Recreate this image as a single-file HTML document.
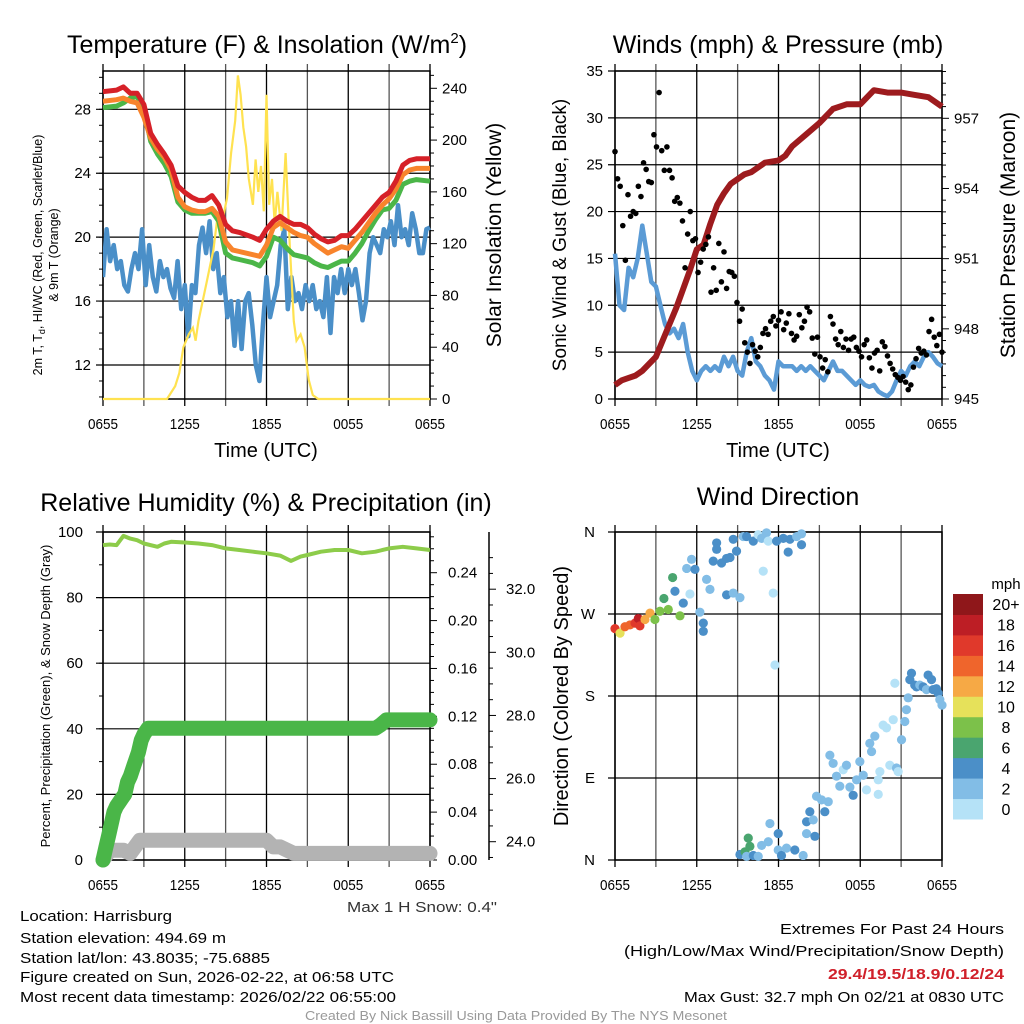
<!DOCTYPE html>
<html><head><meta charset="utf-8"><style>
html,body{margin:0;padding:0;background:#fff;}
svg{display:block;font-family:"Liberation Sans",sans-serif;}
</style></head><body>
<svg id="fig" width="1024" height="1024" viewBox="0 0 1024 1024" xmlns="http://www.w3.org/2000/svg">
<rect x="0" y="0" width="1024" height="1024" fill="#fff"/>
<text x="267" y="53" font-size="25" text-anchor="middle">Temperature (F) &amp; Insolation (W/m<tspan font-size="15" dy="-10">2</tspan><tspan dy="10">)</tspan></text>
<text x="778" y="53" font-size="25" text-anchor="middle">Winds (mph) &amp; Pressure (mb)</text>
<text x="266" y="511" font-size="25" text-anchor="middle">Relative Humidity (%) &amp; Precipitation (in)</text>
<text x="778" y="505" font-size="25" text-anchor="middle">Wind Direction</text>
<g id="p1"></g>
<g id="p2"></g>
<g id="p3"></g>
<g id="p4"></g>
<g font-family="'Liberation Sans Narrow','Liberation Sans',sans-serif" font-size="15">
<text x="347" y="912" textLength="150" lengthAdjust="spacingAndGlyphs" fill="#333">Max 1 H Snow: 0.4"</text>
<text x="20" y="921" textLength="152" lengthAdjust="spacingAndGlyphs">Location: Harrisburg</text>
<text x="20" y="943" textLength="206" lengthAdjust="spacingAndGlyphs">Station elevation: 494.69 m</text>
<text x="20" y="963" textLength="250" lengthAdjust="spacingAndGlyphs">Station lat/lon: 43.8035; -75.6885</text>
<text x="20" y="982" textLength="374" lengthAdjust="spacingAndGlyphs">Figure created on Sun, 2026-02-22, at 06:58 UTC</text>
<text x="20" y="1002" textLength="376" lengthAdjust="spacingAndGlyphs">Most recent data timestamp: 2026/02/22 06:55:00</text>
<text x="780" y="934" textLength="224" lengthAdjust="spacingAndGlyphs">Extremes For Past 24 Hours</text>
<text x="624" y="956" textLength="380" lengthAdjust="spacingAndGlyphs">(High/Low/Max Wind/Precipitation/Snow Depth)</text>
<text x="828" y="979" textLength="176" lengthAdjust="spacingAndGlyphs" fill="#d0202a" font-weight="bold">29.4/19.5/18.9/0.12/24</text>
<text x="684" y="1002" textLength="320" lengthAdjust="spacingAndGlyphs">Max Gust: 32.7 mph On 02/21 at 0830 UTC</text>
<text x="305" y="1020" textLength="422" lengthAdjust="spacingAndGlyphs" font-size="13" fill="#999">Created By Nick Bassill Using Data Provided By The NYS Mesonet</text>
</g>
</svg>
<script>
// ---------- data ----------
const timeLabels=["0655","1255","1855","0055","0655"];
const tempHours=[0,1,1.5,2,2.5,3,3.5,4,4.5,5,5.5,6,6.5,7,7.5,8,8.5,9,9.5,10,11,11.5,12,12.5,13,13.5,14,14.5,15,15.5,16,16.5,17,17.5,18,18.5,19,19.5,20,20.5,21,21.5,22,22.5,23,24];
const tempRed=[29.1,29.2,29.4,29.0,29.0,28.3,26.5,25.8,25.2,24.5,23.2,22.8,22.5,22.3,22.3,22.6,22.0,20.8,20.4,20.3,20.0,19.8,20.5,21.0,21.3,21.0,20.8,20.8,20.6,20.2,19.9,19.7,19.8,20.1,20.1,20.5,21.0,21.5,22.0,22.5,22.8,23.5,24.5,24.8,24.9,24.9];
const tempOrange=[28.5,28.6,28.7,28.5,28.4,27.5,26.2,25.5,25.0,24.2,22.5,21.9,21.7,21.6,21.6,21.8,21.3,19.7,19.2,19.1,18.9,18.8,19.5,20.6,20.9,20.6,20.3,20.1,20.0,19.6,19.3,19.0,19.2,19.4,19.3,19.8,20.3,20.9,21.5,22.0,22.4,23.0,23.9,24.2,24.3,24.3];
const tempGreen=[28.1,28.2,28.4,28.7,28.8,28.0,26.0,25.2,24.6,23.8,22.2,21.7,21.5,21.5,21.5,21.6,21.0,19.0,18.7,18.6,18.4,18.2,18.8,20.0,19.8,19.3,18.9,18.8,18.7,18.4,18.2,18.1,18.3,18.5,18.5,19.0,19.6,20.4,21.1,21.7,21.8,22.3,23.3,23.5,23.6,23.5];
const dewBlue=[17.5,20.5,18.5,19.5,18,18.5,17,16.6,18,19,18,20.5,17,19.5,17.5,16.6,18.5,17.5,18,16.8,16.2,18.5,15.5,17,13.8,17,16.5,19.5,20.6,19,21,18,19,16.5,17.5,15,16,13.2,16,13,16,16.5,14.5,12,11,14.5,17.5,15,16,17,19.5,20.5,15.5,17.5,16,16.5,15.5,17,16,17,15.5,16,15,17.5,14,17.5,16.5,18,16.5,18,17,18,16.5,14.8,16,19,20,19.5,19,20.5,20,21,19.5,22,20,20.5,19.5,21.5,20.5,19,19,20.5,20.6];
const solarHours=[0,4.7,5.3,5.6,5.9,6.3,6.6,6.8,7,7.3,7.6,7.9,8.1,8.4,8.6,8.9,9.1,9.4,9.7,9.9,10.1,10.3,10.5,10.7,11,11.2,11.4,11.6,11.8,12.0,12.2,12.4,12.6,12.8,13.1,13.4,13.7,14,14.2,14.5,14.8,15.1,15.4,15.8,24];
const solarVals=[0,0,10,20,40,50,55,45,60,75,90,105,115,140,125,145,155,190,215,250,235,210,195,170,150,185,160,180,145,235,150,170,135,160,130,190,120,60,45,50,40,15,3,0,0];
const pressHours=[0,0.5,1,1.5,2,2.5,3,3.5,4,4.5,5,5.5,6,6.5,7,7.5,8,8.5,9,9.5,10,11,12,12.5,13,14,15,16,17,18,19,20,21,22,23,24];
const pressVals=[945.6,945.8,945.9,946.0,946.2,946.5,946.8,947.5,948.2,948.9,949.7,950.5,951.4,951.6,952.5,953.3,953.8,954.2,954.4,954.6,954.7,955.1,955.2,955.4,955.8,956.3,956.8,957.4,957.6,957.6,958.2,958.1,958.1,958.0,957.9,957.5];
const windSpeed=[15.5,10,9.5,14,13,15,18.5,15.5,12.5,12,10,8,7,7.5,6.5,8,5,3,2,3,3.5,3,3.5,3,4.5,3.5,4.5,3,2.5,5,6.5,4,3.5,2.5,2,1,4,3.5,3.5,3.5,3,3.5,3,3.5,3,2.5,2,3,4,3,3,2.5,2,1.5,2,1.5,1.3,1.5,0.8,0.5,0.3,0.8,2,3,2.5,3.5,4,3.5,4.5,5,4.5,3.8,3.5];
const gustSpeed=[26.4,23.5,22.7,18.5,14.8,21.8,19.5,20,19.8,22.7,21.6,25.2,24.5,23.2,23.1,28.2,26.9,32.7,26.5,24.4,26.9,24.4,23.6,21.1,21.5,20.9,19,14,17.6,20,16.9,17.1,13.5,14.6,16,16.5,17.3,11.4,14,11.6,16.6,12.5,15.7,11.8,13.6,13.5,13.1,10.3,8.3,9.6,6,5,3.8,5.8,5.1,4.5,5.5,7,7.5,6.9,8.3,8.8,7.8,8.4,9.3,7.4,8.1,9.1,7,6.3,6.7,9.0,7.6,8.3,9.8,9.3,6.5,4.8,6.6,4.5,3.3,4.2,2.9,8.8,8.0,6.4,5.8,7.2,5.5,6.4,5.2,6.4,6.6,5.5,5.1,4.5,5.8,6.3,4.4,3.3,4.9,5.2,3.0,6.1,5.6,4.6,3.8,3.2,2.6,2.3,2.0,2.4,1.8,1.0,1.5,3.4,4.3,5.4,4.9,5.1,4.7,7.2,8.5,6.6,5.7,6.9,5.0];
const rhHours=[0,0.5,1,1.5,2,2.5,3,4,4.5,5,6,7,8,9,10,11,12,13,13.8,14.5,15,16,17,18,19,20,21,22,23,24];
const rhVals=[96,96.2,96,98.8,98,97.5,96.5,95.5,96.5,97,96.8,96.5,96,95,94.5,94,93.5,92.8,91.2,92.5,93,94,94.5,94.5,93.5,94,95,95.5,95,94.5];
const precipHours=[0,0.2,0.4,0.6,0.8,1,1.3,1.6,1.8,2,2.3,2.6,2.8,3,3.3,20,20.4,20.8,24];
const precipVals=[0,0.01,0.02,0.03,0.04,0.045,0.05,0.055,0.065,0.07,0.08,0.09,0.1,0.105,0.11,0.11,0.113,0.117,0.117];
const snowHours=[0,0.5,1.5,2,2.7,12,12.5,13,14,24];
const snowVals=[0,3,3,2,6,6,4,4,2,2];
const dirHours=[0,0.37,0.73,1.1,1.47,1.71,1.83,2.2,2.57,2.93,3.3,3.59,3.91,4.23,4.4,4.77,5.01,5.26,5.5,5.62,5.87,6.23,6.48,6.48,6.72,6.97,7.21,7.46,7.46,7.82,8.19,8.44,8.19,8.68,8.68,8.92,9.17,9.41,9.66,10.15,10.51,10.76,11.12,11.25,10.88,11.61,11.74,11.86,12.35,12.71,12.84,13.33,13.69,13.69,9.17,9.54,9.78,9.9,9.66,10.15,10.51,10.76,11.37,11.25,11.98,11.98,12.22,12.59,13.2,13.81,14.06,14.06,14.3,14.55,14.67,14.79,15.16,15.4,15.65,15.77,16.01,16.26,16.5,16.75,16.99,17.24,17.48,17.73,17.97,18.22,18.46,18.7,18.83,19.07,19.32,19.32,19.44,19.68,19.93,20.17,20.42,20.54,20.66,20.78,21.03,21.27,21.39,21.52,21.64,21.76,22.0,22.13,22.37,22.62,22.86,22.98,23.23,23.35,23.59,23.72,23.84,24.0];
const dirDeg=[254,249,256,258,260,265,257,264,271,264,273,287,275,310,295,268,282,320,292,330,319,272,260,251,308,297,328,348,341,326,331,332,291,293,352,339,288,355,355,350,357,353,359,350,317,293,214,350,353,338,352,355,358,346,6,9,24,15,4,5,4,16,40,20,29,11,5,13,11,5,29,42,53,44,26,70,66,53,64,115,106,92,81,99,104,80,71,88,108,93,77,128,119,136,88,72,97,148,145,104,154,194,101,97,132,152,165,178,198,205,192,190,192,190,187,203,198,187,188,183,176,170];
const dirSpeed=[17,10,14,15,17,18,17,13,12,8,8,7,8,7,5,8,4,3,1,3,4,3,4,4,3,3,4,4,4,4,4,4,4,3,4,4,3,3,4,4,1,3,3,1,1,1,1,4,4,4,4,3,3,4,4,6,6,6,3,4,3,3,3,3,4,3,4,3,4,3,3,4,4,3,4,3,3,4,3,3,3,3,3,1,3,3,4,3,3,3,1,2,3,3,1,1,1,1,1,1,1,1,2,1,3,3,3,3,4,4,4,4,3,4,3,4,4,4,4,4,3,3];
const colorbarLabels=["0","2","4","6","8","10","12","14","16","18","20+"];
const colorbarColors=["#b5e2f7","#82bde6","#4b8fc8","#4aa56f","#7cc14a","#e6e15a","#f6a945","#ef652c","#e0392b","#bd1e25","#8f171a"];

// ---------- helpers ----------
const NS="http://www.w3.org/2000/svg";
function mk(parent,tag,attrs){const e=document.createElementNS(NS,tag);for(const k in attrs)e.setAttribute(k,attrs[k]);parent.appendChild(e);return e;}
function lin(d0,d1,r0,r1){return v=>r0+(v-d0)*(r1-r0)/(d1-d0);}
function txt(parent,x,y,s,size,anchor,extra){const t=mk(parent,'text',Object.assign({x:x,y:y,'font-size':size,'text-anchor':anchor||'start'},extra||{}));t.textContent=s;return t;}
function pathFrom(xs,ys,fx,fy){return xs.map((v,i)=>(i?'L':'M')+fx(v).toFixed(1)+','+fy(ys[i]).toFixed(1)).join('');}
function evenTimes(n){return Array.from({length:n},(_,i)=>i*24/(n-1));}

function frame(g,L,R,T,B,fx,hgrid,name){
  for(let h=0;h<=24;h+=3){
    const x=fx(h);
    const l=mk(g,'line',{x1:x,y1:T-7,x2:x,y2:B+7,stroke:(h%6===0?'#000':'#555'),'stroke-width':1.3});
    
    
  }
  hgrid.forEach(y=>{
    const l=mk(g,'line',{x1:L-7,y1:y,x2:R,y2:y,stroke:'#000','stroke-width':1.2});
    
    
  });
  const r=mk(g,'rect',{x:L,y:T,width:R-L,height:B-T,fill:'none',stroke:'#000','stroke-width':1.5});
  
  
  timeLabels.forEach((s,i)=>{
    const t=txt(g,fx(i*6),B+30,s,15,'middle',{textLength:30,lengthAdjust:'spacingAndGlyphs'});
    
    
  });
}

// ---------- Panel 1 ----------
(function(){
  const g=document.getElementById('p1');
  const L=103,R=430,T=71,B=399;
  const fx=lin(0,24,L,R), fy=lin(12,28,365,109.3), fs=lin(0,240,399,88.3);
  const ticks=[12,16,20,24,28];
  frame(g,L,R,T,B,fx,ticks.map(fy),'temp');
  for(let v=10;v<=30;v++){const y=fy(v);if(y>=T&&y<=B){const l=mk(g,'line',{x1:L-4,y1:y,x2:L,y2:y,stroke:'#000'});}}
  ticks.forEach(v=>{const t=txt(g,L-12,fy(v)+5,String(v),15,'end');});
  for(let v=0;v<=250;v+=10){const y=fs(v);if(y>=T&&y<=B){const l=mk(g,'line',{x1:R,y1:y,x2:R+(v%40===0?7:4),y2:y,stroke:'#000'});}}
  [0,40,80,120,160,200,240].forEach(v=>{const t=txt(g,R+12,fs(v)+5,String(v),15,'start');});
  const clip=mk(g,'clipPath',{id:'c1'});mk(clip,'rect',{x:L,y:T-3,width:R-L+4,height:B-T+6});
  const pg=mk(g,'g',{'clip-path':'url(#c1)'});
  let p=mk(pg,'path',{d:pathFrom(evenTimes(dewBlue.length),dewBlue,fx,fy),fill:'none',stroke:'#4a8fc8','stroke-width':4.5,'stroke-linejoin':'round'});
  
  p=mk(pg,'path',{d:pathFrom(solarHours,solarVals,fx,fs),fill:'none',stroke:'#ffe250','stroke-width':2.2});
  
  p=mk(pg,'path',{d:pathFrom(tempHours,tempGreen,fx,fy),fill:'none',stroke:'#4bb648','stroke-width':5,'stroke-linejoin':'round'});
  
  p=mk(pg,'path',{d:pathFrom(tempHours,tempOrange,fx,fy),fill:'none',stroke:'#f8842c','stroke-width':5,'stroke-linejoin':'round'});
  
  p=mk(pg,'path',{d:pathFrom(tempHours,tempRed,fx,fy),fill:'none',stroke:'#d62128','stroke-width':5,'stroke-linejoin':'round'});
  
  let t=txt(g,266,457,'Time (UTC)',20,'middle');
  t=mk(g,'text',{transform:'translate(42,255) rotate(-90)','font-size':12.5,'text-anchor':'middle'});
  t.innerHTML='2m T, T<tspan font-size="9" dy="3">d</tspan><tspan dy="-3">, HI/WC (Red, Green, Scarlet/Blue)</tspan>';
  
  t=txt(g,0,0,'& 9m T (Orange)',12.5,'middle',{transform:'translate(58,255) rotate(-90)'});
  t=txt(g,0,0,'Solar Insolation (Yellow)',21,'middle',{transform:'translate(501,235) rotate(-90)'});
})();

// ---------- Panel 2 ----------
(function(){
  const g=document.getElementById('p2');
  const L=615,R=942,T=71,B=399;
  const fx=lin(0,24,L,R), fy=lin(0,35,399,71), fp=lin(945,957,399,118.3);
  const ticks=[0,5,10,15,20,25,30,35];
  frame(g,L,R,T,B,fx,ticks.map(fy),'wind');
  ticks.forEach(v=>{const t=txt(g,L-12,fy(v)+5,String(v),15,'end');});
  for(let v=945;v<=959;v+=0.5){const y=fp(v);if(y>=T&&y<=B){const l=mk(g,'line',{x1:R,y1:y,x2:R+(v%3===0?7:4),y2:y,stroke:'#000'});}}
  [945,948,951,954,957].forEach(v=>{const t=txt(g,R+12,fp(v)+5,String(v),15,'start');});
  let p=mk(g,'path',{d:pathFrom(evenTimes(windSpeed.length),windSpeed,fx,fy),fill:'none',stroke:'#5b9bd5','stroke-width':4.5,'stroke-linejoin':'round'});
  
  p=mk(g,'path',{d:pathFrom(pressHours,pressVals,fx,fp),fill:'none',stroke:'#9d1b1e','stroke-width':6,'stroke-linejoin':'round'});
  
  const gt=evenTimes(gustSpeed.length);
  gustSpeed.forEach((v,i)=>{const c=mk(g,'circle',{cx:fx(gt[i]),cy:fy(v),r:2.8,fill:'#000'});
    });
  let t=txt(g,778,457,'Time (UTC)',20,'middle');
  t=txt(g,0,0,'Sonic Wind & Gust (Blue, Black)',19,'middle',{transform:'translate(566,235) rotate(-90)'});
  t=txt(g,0,0,'Station Pressure (Maroon)',21,'middle',{transform:'translate(1015,235) rotate(-90)'});
})();

// ---------- Panel 3 ----------
(function(){
  const g=document.getElementById('p3');
  const L=103,R=430,T=532,B=860;
  const fx=lin(0,24,L,R), fy=lin(0,100,860,532), fp=lin(0,0.24,860,572.7), fs=lin(24,32,841.7,589.2);
  const ticks=[0,20,40,60,80,100];
  frame(g,L,R,T,B,fx,ticks.map(fy),'rh');
  for(let v=0;v<=100;v+=10){const y=fy(v);const l=mk(g,'line',{x1:L-4,y1:y,x2:L,y2:y,stroke:'#000'});}
  ticks.forEach(v=>{const t=txt(g,L-20,fy(v)+5,String(v),15,'end');});
  for(let k=0;k<=27;k++){const v=k/100;const y=fp(v);const major=(k%4===0);const l=mk(g,'line',{x1:R,y1:y,x2:R+(major?7:4),y2:y,stroke:'#000'});}
  [0,0.04,0.08,0.12,0.16,0.20,0.24].forEach(v=>{const t=txt(g,R+18,fp(v)+5,v.toFixed(2),15,'start');});
  const ax=mk(g,'line',{x1:489,y1:532,x2:489,y2:860,stroke:'#000','stroke-width':1.5});
  for(let v=23.5;v<=33;v+=0.5){const y=fs(v);if(y>=532&&y<=860){const l=mk(g,'line',{x1:489,y1:y,x2:489+(v%2===0?7:4),y2:y,stroke:'#000'});}}
  [24,26,28,30,32].forEach(v=>{const t=txt(g,506,fs(v)+5,v.toFixed(1),15,'start');});
  let p=mk(g,'path',{d:pathFrom(snowHours,snowVals,fx,fy),fill:'none',stroke:'#b3b3b3','stroke-width':15,'stroke-linejoin':'round','stroke-linecap':'round'});
  
  p=mk(g,'path',{d:pathFrom(precipHours,precipVals,fx,fp),fill:'none',stroke:'#4ab648','stroke-width':15,'stroke-linejoin':'round','stroke-linecap':'round'});
  
  p=mk(g,'path',{d:pathFrom(rhHours,rhVals,fx,fy),fill:'none',stroke:'#8dcc4a','stroke-width':4,'stroke-linejoin':'round'});
  
  let t=txt(g,0,0,'Percent, Precipitation (Green), & Snow Depth (Gray)',13,'middle',{transform:'translate(50,696) rotate(-90)'});
})();

// ---------- Panel 4 ----------
(function(){
  const g=document.getElementById('p4');
  const L=615,R=942,T=532,B=860;
  const fx=lin(0,24,L,R), fy=lin(0,360,860,532);
  const ticks=[0,90,180,270,360], names=['N','E','S','W','N'];
  frame(g,L,R,T,B,fx,ticks.map(fy),'dir');
  ticks.forEach((v,i)=>{const t=txt(g,L-20,fy(v)+5,names[i],15,'end');});
  const cidx=s=>Math.min(10,Math.floor(s/2));
  dirHours.forEach((h,i)=>{
    const c=mk(g,'circle',{cx:fx(h),cy:fy(dirDeg[i]),r:4.6,fill:colorbarColors[cidx(dirSpeed[i])]});
    
    
  });
  let t=txt(g,0,0,'Direction (Colored By Speed)',20,'middle',{transform:'translate(568,696) rotate(-90)'});
  t=txt(g,1006,589,'mph',15,'middle');
  const cbTop=594,cbBot=819,h=(cbBot-cbTop)/colorbarColors.length;
  colorbarColors.forEach((col,i)=>{
    const y=cbBot-(i+1)*h;
    const r=mk(g,'rect',{x:953,y:y,width:30,height:h+0.5,fill:col});
    
    
    const tl=txt(g,1006,y+h/2+6,colorbarLabels[i],16,'middle');
    
    
  });
})();
</script>
</body></html>
